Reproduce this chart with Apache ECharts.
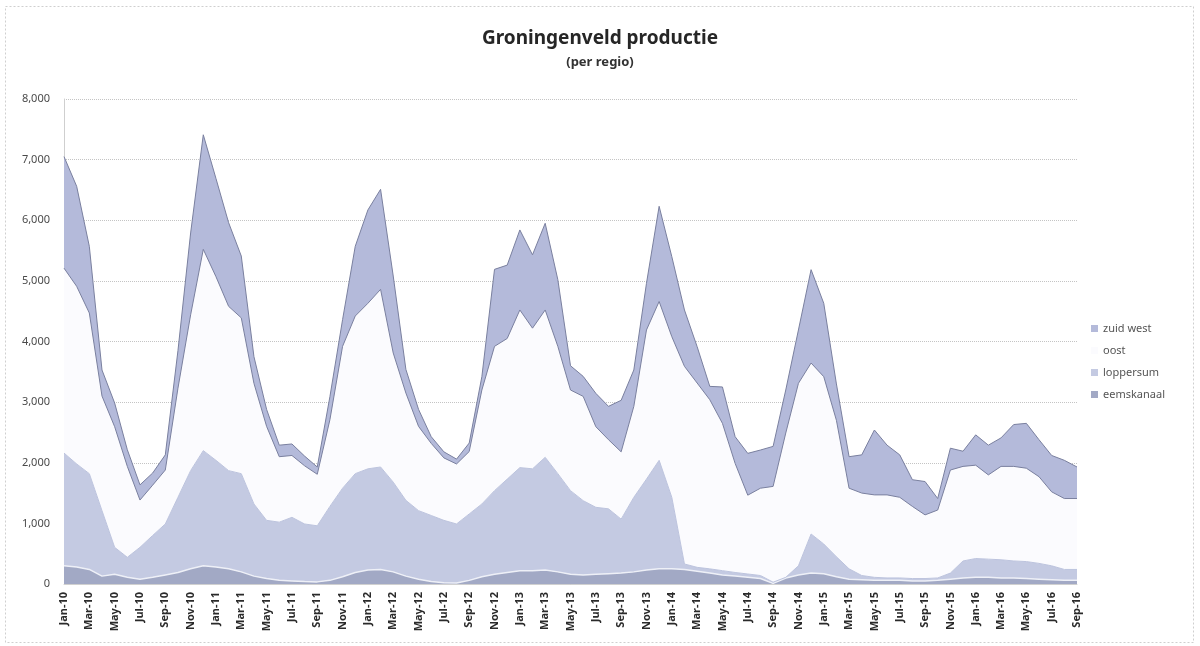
<!DOCTYPE html>
<html>
<head>
<meta charset="utf-8">
<title>Groningenveld productie</title>
<script src="https://cdn.jsdelivr.net/npm/echarts@6/dist/echarts.min.js"></script>
<style>
  html, body { margin: 0; padding: 0; background: #ffffff; }
  #chart { width: 1200px; height: 646px; }
</style>
</head>
<body>
<div id="chart"></div>
<script>
// Monthly categories Jan-10 .. Sep-16
const monthNames = ['Jan','Feb','Mar','Apr','May','Jun','Jul','Aug','Sep','Oct','Nov','Dec'];
const categories = [];
for (let y = 10; y <= 16; y++) {
  for (let m = 0; m < 12; m++) {
    if (y === 16 && m > 8) break;
    categories.push(monthNames[m] + '-' + y);
  }
}

// Production per region (stacked bottom to top)
const eemskanaal = [
  300, 280, 240, 130, 160, 110, 80, 110, 150, 190, 250, 300,
  280, 250, 200, 130, 90, 60, 50, 40, 35, 60, 120, 190,
  230, 240, 200, 130, 80, 40, 20, 15, 60, 120, 160, 190,
  220, 220, 230, 200, 160, 150, 160, 170, 180, 200, 230, 250,
  250, 240, 210, 180, 150, 130, 110, 90, 10, 100, 150, 180,
  170, 120, 80, 70, 60, 60, 60, 50, 50, 60, 80, 100,
  110, 110, 100, 100, 90, 80, 70, 60, 60
];
const loppersum = [
  1860, 1700, 1580, 1080, 445, 330, 525, 690, 840, 1240, 1620, 1900,
  1760, 1620, 1620, 1190, 960, 960, 1050, 950, 925, 1220, 1460, 1630,
  1670, 1690, 1480, 1250, 1130, 1090, 1030, 975, 1095, 1200, 1380, 1540,
  1700, 1680, 1860, 1620, 1380, 1225, 1105, 1070, 890, 1230, 1500, 1790,
  1180, 90, 65, 70, 70, 60, 55, 50, 20, 10, 150, 645,
  490, 330, 170, 70, 50, 40, 40, 40, 40, 40, 100, 280,
  310, 300, 300, 280, 280, 260, 230, 180, 180
];
const oost = [
  3050, 2930, 2650, 1890, 1990, 1500, 780, 830, 890, 1800, 2570, 3320,
  3030, 2710, 2570, 1990, 1550, 1080, 1020, 960, 850, 1430, 2340, 2600,
  2730, 2930, 2130, 1770, 1390, 1190, 1030, 990, 1030, 1880, 2380, 2320,
  2600, 2320, 2430, 2100, 1660, 1720, 1330, 1140, 1110, 1500, 2460, 2620,
  2650, 3260, 3040, 2790, 2430, 1800, 1300, 1440, 1580, 2380, 3010, 2820,
  2760, 2250, 1330, 1360, 1360, 1370, 1330, 1190, 1050, 1120, 1700, 1560,
  1540, 1390, 1540, 1560, 1540, 1430, 1220, 1170, 1170
];
const zuidWest = [
  1840, 1650, 1100, 430, 390, 275, 250, 200, 250, 620, 1350, 1890,
  1620, 1380, 1020, 440, 280, 190, 190, 160, 120, 380, 440, 1150,
  1540, 1650, 1270, 390, 280, 110, 100, 80, 140, 220, 1270, 1210,
  1320, 1210, 1430, 1100, 400, 330, 550, 550, 850, 600, 770, 1570,
  1320, 930, 600, 220, 600, 440, 690, 630, 660, 710, 880, 1540,
  1210, 600, 520, 630, 1070, 820, 700, 440, 550, 190, 360, 250,
  500, 490, 470, 690, 740, 610, 600, 630, 520
];

// Value axis ticks
const yMin = 0;
const yMax = 8000;
const yStep = 1000;

const legendOrder = ['zuid west', 'oost', 'loppersum', 'eemskanaal'];

const FONT = '"Noto Sans", "Open Sans", sans-serif';

function areaSeries(name, data, fill, line, lineWidth) {
  return {
    name: name,
    type: 'line',
    stack: 'regio',
    data: data,
    symbol: 'none',
    smooth: false,
    lineStyle: { color: line, width: lineWidth },
    itemStyle: { color: fill },
    areaStyle: { color: fill, opacity: 1 },
    emphasis: { disabled: true }
  };
}

const chart = echarts.init(document.getElementById('chart'), null, { renderer: 'canvas' });

chart.setOption({
  animation: false,
  backgroundColor: '#ffffff',
  title: {
    text: 'Groningenveld productie',
    subtext: '(per regio)',
    left: 'center',
    top: 24,
    itemGap: 8,
    textStyle: { fontFamily: FONT, fontSize: 19, fontWeight: 'bold', color: '#262626' },
    subtextStyle: { fontFamily: FONT, fontSize: 13, fontWeight: 'bold', color: '#333333' }
  },
  legend: {
    data: legendOrder,
    orient: 'vertical',
    left: 1086,
    top: 318,
    itemWidth: 7,
    itemHeight: 7,
    itemGap: 11,
    icon: 'rect',
    textStyle: { fontFamily: FONT, fontSize: 11, color: '#555555' }
  },
  grid: { left: 64, right: 123, top: 99, bottom: 62, containLabel: false },
  xAxis: {
    type: 'category',
    data: categories,
    boundaryGap: false,
    axisLine: { show: true, lineStyle: { color: '#d0d0d0' } },
    axisTick: { show: false },
    axisLabel: {
      interval: 1,
      rotate: 90,
      margin: 8,
      fontFamily: FONT,
      fontSize: 11,
      fontWeight: 'bold',
      color: '#2a2a2a'
    },
    splitLine: { show: false }
  },
  yAxis: {
    type: 'value',
    min: yMin,
    max: yMax,
    interval: yStep,
    axisLine: { show: true, lineStyle: { color: '#cfcfcf' } },
    axisTick: { show: false },
    axisLabel: {
      margin: 14,
      fontFamily: FONT,
      fontSize: 11,
      color: '#4a4a4a',
      formatter: v => v.toLocaleString('en-US')
    },
    splitLine: { show: true, lineStyle: { color: '#c4c4c4', type: 'dotted', width: 1 } }
  },
  series: [
    areaSeries('eemskanaal', eemskanaal, '#a2a9c5', '#eef0f7', 1.5),
    areaSeries('loppersum', loppersum, '#c4cae2', '#bcc3dd', 1),
    areaSeries('oost', oost, '#fbfbfe', '#7a809f', 1),
    areaSeries('zuid west', zuidWest, '#b4bada', '#7a809f', 1)
  ],
  graphic: [
    {
      type: 'rect',
      left: 3,
      top: 4,
      shape: { width: 1188, height: 636 },
      style: { fill: 'none', stroke: '#cfcfcf', lineWidth: 1, lineDash: [2, 2] },
      silent: true
    }
  ]
});
</script>
</body>
</html>
